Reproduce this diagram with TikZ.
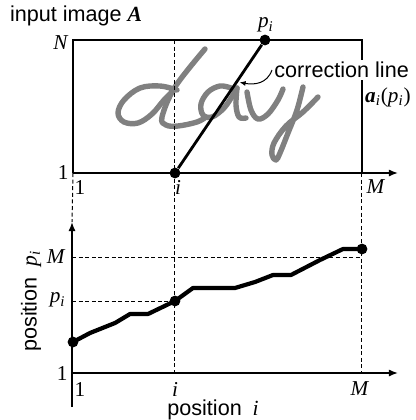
\documentclass[tikz,border=0pt]{standalone}
\usepackage{fontspec}
\setmainfont{Liberation Serif}
\newfontfamily\labelsans{Liberation Sans}
\usetikzlibrary{arrows.meta, positioning}

\newcommand{\vpi}{\textit{p}\textsubscript{\textit{i}}}

\begin{document}
\begin{tikzpicture}[x=0.5pt, y=-0.5pt, font=\fontsize{10.6}{12}\selectfont,
        frame/.style={line width=0.7pt},
        axis/.style={line width=0.7pt, -{Latex[length=4.5pt, width=3.5pt]}},
        guide/.style={line width=0.5pt, dash pattern=on 2pt off 1.3pt},
        dot/.style={circle, fill=black, inner sep=0pt, minimum size=5.4pt},
        ink/.style={black!50, line width=2.7pt, line cap=round, line join=round},
        corr/.style={line width=1.4pt},
        curve/.style={line width=2.1pt, line join=round},
        tick/.style={anchor=east, inner sep=1pt},
        sans/.style={font=\labelsans\fontsize{10.8}{12}\selectfont}]
    \useasboundingbox (0,0) rectangle (416,420);

    % input image
    \coordinate (A1) at (73,173);
    \coordinate (AN) at (73,40);
    \coordinate (AM) at (362,40);
    \coordinate (AMb) at (362,173);
    \coordinate (Aend) at (398,173);
    \coordinate (Ai) at (175,40);

    % handwritten "day"
    \draw[ink] plot[smooth, tension=0.6] coordinates {(177,90) (160,86) (140,88) (124,100) (118,113) (124,122) (138,123) (152,114) (164,100) (174,90)};
    \draw[ink] plot[smooth, tension=0.6] coordinates {(205,49) (175,87) (162,117) (166,125) (178,126) (197,122) (206,117)};
    \draw[ink] plot[smooth, tension=0.6] coordinates {(231,88) (220,86) (208,92) (201,104) (203,115) (212,117) (224,108) (233,95) (237,88)};
    \draw[ink] plot[smooth, tension=0.6] coordinates {(237,88) (236,105) (239,117) (246,118)};
    \draw[ink] plot[smooth, tension=0.6] coordinates {(247,92) (251,110) (258,119) (268,114) (278,100) (283,89)};
    \draw[ink] plot[smooth, tension=0.6] coordinates {(303,87) (297,110) (288,133) (280,153) (276,160) (272,155) (274,143) (286,126) (303,112) (318,97)};

    \draw[frame] (A1) -- (AN) -- (AM) -- (AMb);
    \draw[axis] (A1) -- (Aend);

    % correction line
    \node[dot] (i0) at (175,173) {};
    \node[dot] (pi) at (265,40) {};
    \draw[corr] (i0) -- (pi);
    \path (i0) -- (pi) coordinate[pos=0.7] (hit);

    \node[sans, anchor=west, fill=white, inner sep=1pt] (corrlbl) at (272,70) {correction line};
    \draw[-{Latex[length=3pt, width=2.5pt]}, line width=0.5pt, shorten >=1.5pt]
        (corrlbl.west) .. controls (267,84) and (254,85) .. (hit);
    \node (ai) at (388,97) {\textbf{\textit{a}}\textsubscript{\textit{i}}(\vpi)};

    \node[sans, anchor=west] (title) at (3,16) {input image \rmfamily\textbf{\textit{A}}};
    \node (pilbl) at (266,25) {\vpi};
    \node[tick] (Nlbl) at (71,43) {\textit{N}};
    \node[tick] (onelbl) at (71,172) {1};
    \node (onex) at (80,187) {1};
    \node (ilbl) at (178,187) {\textit{i}};
    \node (Mlbl) at (376,187) {\textit{M}};

    % mapping p_i
    \coordinate (B1) at (72,373);
    \coordinate (Btop) at (72,222);
    \coordinate (Bbot) at (72,407);
    \coordinate (Bend) at (398,373);
    \coordinate (Bi) at (175,373);
    \coordinate (BM) at (362,373);
    \coordinate (yM) at (72,257);
    \coordinate (xM) at (362,257);
    \coordinate (ypi) at (72,301);

    \draw[guide] (A1) -- (Btop);
    \draw[guide] (Ai) -- (Bi);
    \draw[guide] (AMb) -- (BM);
    \draw[guide] (yM) -- (xM);

    \node[dot] (c0) at (73,342) {};
    \node[dot] (ci) at (175,301) {};
    \node[dot] (cM) at (362,249) {};
    \draw[guide] (ypi) -- (ci);
    \draw[curve] (c0.center) -- (90,333) -- (115,323) -- (130,314) -- (148,314) -- (ci.center)
        -- (193,288) -- (235,288) -- (255,282) -- (273,275) -- (291,275) -- (320,260) -- (343,249) -- (cM.center);

    \draw[axis] (Bbot) -- (Btop);
    \draw[axis] (B1) -- (Bend);

    \node[tick] (Mly) at (68,257) {\textit{M}};
    \node[tick] (ply) at (68,300) {\vpi};
    \node[tick] (oney) at (70,373) {1};
    \node (onebx) at (80,389) {1};
    \node (ibx) at (175,389) {\textit{i}};
    \node (Mbx) at (360,389) {\textit{M}};
    \node[sans] (xlbl) at (213,410) {position\enspace\rmfamily\textit{i}};
    \node[sans, rotate=90] (ylbl) at (31,301) {position\enspace\rmfamily\vpi};
\end{tikzpicture}
\end{document}
